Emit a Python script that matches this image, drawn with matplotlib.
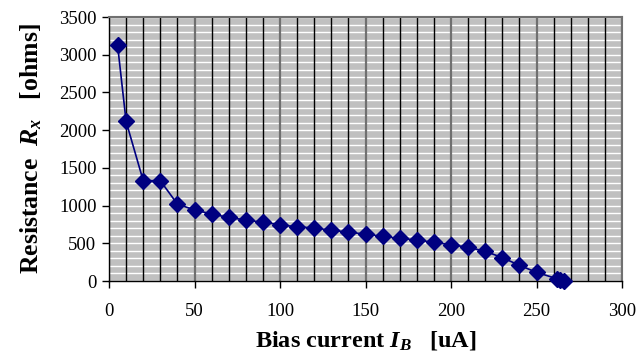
import numpy as np
import matplotlib.pyplot as plt
from matplotlib.ticker import MultipleLocator

bias_ua = [5, 10, 20, 30, 40, 50, 60, 70, 80, 90, 100, 110, 120, 130, 140,
           150, 160, 170, 180, 190, 200, 210, 220, 230, 240, 250, 262, 264, 266]
resistance = [3130, 2115, 1330, 1330, 1020, 942, 889, 842, 809, 778, 747, 716,
              705, 672, 650, 619, 593, 566, 544, 513, 482, 447, 394, 310, 208,
              115, 30, 15, 2]

plt.rcParams['font.family'] = ['Liberation Serif', 'DejaVu Serif']
plt.rcParams['mathtext.fontset'] = 'custom'
plt.rcParams['mathtext.it'] = 'Liberation Serif:italic:bold'
plt.rcParams['mathtext.rm'] = 'Liberation Serif:bold'

fig = plt.figure(figsize=(6.44, 3.6), dpi=100)
ax = fig.add_axes([109/644, 1-281/360, (622-109)/644, (281-17)/360])

ax.set_facecolor('#c0c0c0')
ax.set_xlim(0, 300)
ax.set_ylim(0, 3500)

# grid: white every 100 ohm, black every 10 uA, grey at major ticks
ax.yaxis.set_minor_locator(MultipleLocator(100))
ax.xaxis.set_minor_locator(MultipleLocator(10))
ax.xaxis.set_major_locator(MultipleLocator(50))
ax.yaxis.set_major_locator(MultipleLocator(500))
ax.grid(which='minor', axis='y', color='white', lw=1.0)
ax.grid(which='major', axis='y', color='white', lw=1.0)
ax.grid(which='minor', axis='x', color='black', lw=1.0)
ax.grid(which='major', axis='x', color='#707070', lw=1.6)
ax.set_axisbelow(True)
ax.xaxis.set_zorder(0.6)  # vertical lines over the white ones

ax.plot(bias_ua, resistance, color='#000080', lw=1.2, marker='D', ms=8,
        mec='#000080', mfc='#000080', zorder=3, clip_on=False)

for s in ['top', 'right']:
    ax.spines[s].set_color('#707070')
    ax.spines[s].set_linewidth(1.5)
for s in ['left', 'bottom']:
    ax.spines[s].set_color('black')
    ax.spines[s].set_linewidth(1.0)

ax.tick_params(which='major', direction='out', length=5, width=1, labelsize=13.5,
               colors='black')
ax.tick_params(which='minor', length=0)
ax.tick_params(axis='y', pad=4)
ax.tick_params(axis='x', pad=11)

ax.set_xlabel(r'Bias current $I_B$   [uA]', fontsize=17.5, fontweight='bold',
              labelpad=6)
ax.set_ylabel(r'Resistance  $R_x$   [ohms]', fontsize=18.5, fontweight='bold',
              labelpad=11)

fig.savefig('out.png', dpi=100)
